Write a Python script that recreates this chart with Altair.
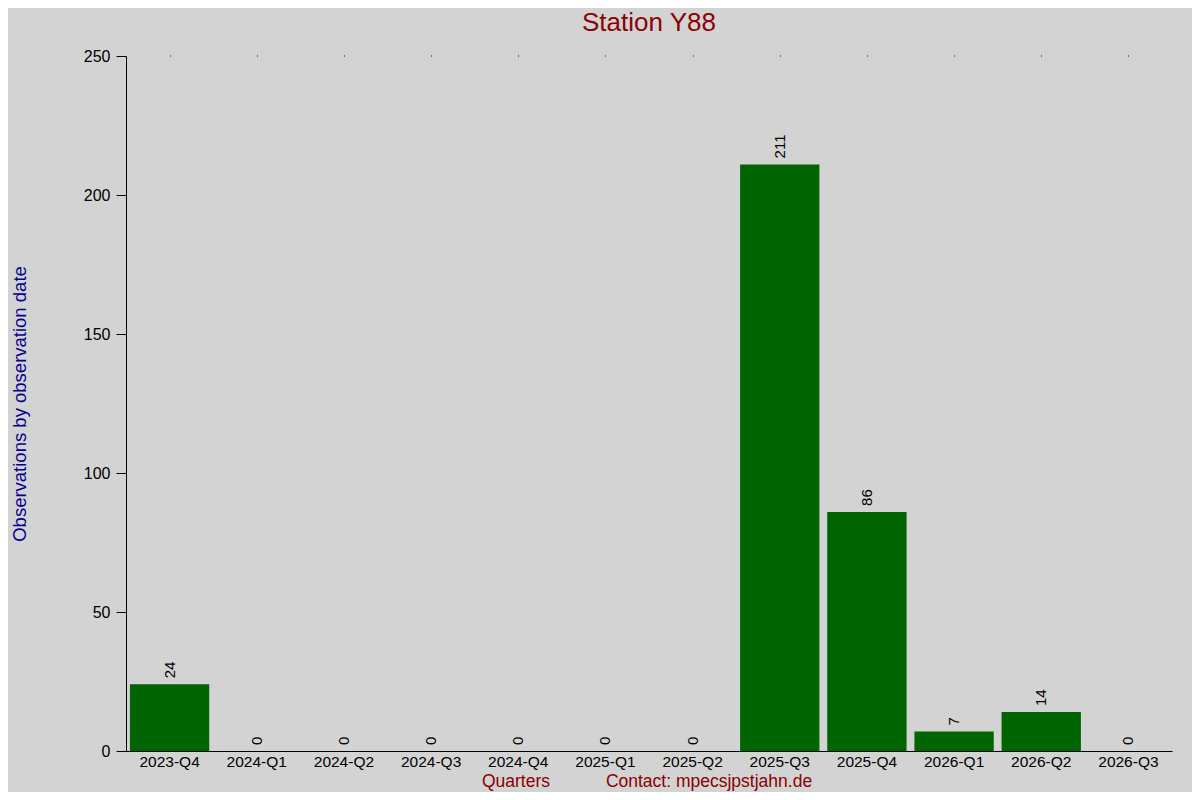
import altair as alt
import pandas as pd

quarters = ["2023-Q4", "2024-Q1", "2024-Q2", "2024-Q3", "2024-Q4", "2025-Q1",
            "2025-Q2", "2025-Q3", "2025-Q4", "2026-Q1", "2026-Q2", "2026-Q3"]
counts = [24, 0, 0, 0, 0, 0, 0, 211, 86, 7, 14, 0]

df = pd.DataFrame({"quarter": quarters, "count": counts})

FONT = "Liberation Sans"
W, H = 1046, 695

xscale = alt.Scale(paddingInner=0.09, paddingOuter=0.045)
yscale = alt.Scale(domain=[0, 250])

bars = alt.Chart(df).mark_bar(color="#006400").encode(
    x=alt.X("quarter:N", sort=quarters, scale=xscale,
            axis=alt.Axis(title=None, labelAngle=0, ticks=False, labelPadding=3,
                          labelFontSize=15.5, labelFont=FONT, labelColor="black",
                          domainColor="black", orient="bottom")),
    y=alt.Y("count:Q", scale=yscale,
            axis=alt.Axis(values=[0, 50, 100, 150, 200, 250], grid=False,
                          tickSize=10, tickColor="black", domainColor="black",
                          labelFontSize=16, labelFont=FONT, labelColor="black",
                          labelPadding=6,
                          title="Observations by observation date",
                          titleFont=FONT, titleFontSize=18.5, titleFontWeight="normal",
                          titleColor="#00008B", titleX=-107, titleY=H / 2,
                          titleAlign="center", titleBaseline="middle", titleAngle=-90)),
)

labels = alt.Chart(df).mark_text(angle=270, align="left", baseline="middle", dx=6,
                                 fontSize=15, font=FONT, color="black").encode(
    x=alt.X("quarter:N", sort=quarters, scale=xscale,
            axis=alt.Axis(orient="top", labels=False, domain=False, title=None,
                          tickSize=1, tickColor="black", tickWidth=1)),
    y=alt.Y("count:Q", scale=yscale),
    text="count:Q",
)

footer = pd.DataFrame({"t": ["Quarters", "Contact: mpecsjpstjahn.de"],
                       "px": [390, 583]})
foot = alt.Chart(footer).mark_text(align="center", baseline="middle", fontSize=17.5,
                                   font=FONT, color="#8B0000").encode(
    x=alt.X("px:Q", scale=alt.Scale(domain=[0, W], range=[0, W]), axis=None),
    y=alt.value(H + 31), text="t:N")

chart = alt.layer(bars, labels, foot).resolve_scale(x="independent").properties(
    width=W, height=H,
    title=alt.TitleParams("Station Y88", fontSize=26, font=FONT, fontWeight="normal",
                          color="#8B0000", anchor="middle", offset=12),
    background="#D3D3D3",
    padding={"left": 118, "top": 48, "right": 20, "bottom": 41},
    autosize=alt.AutoSizeParams(type="none"),
).configure_view(stroke=None)

chart.save("out.html", embed_options={"renderer": "svg", "actions": False})
